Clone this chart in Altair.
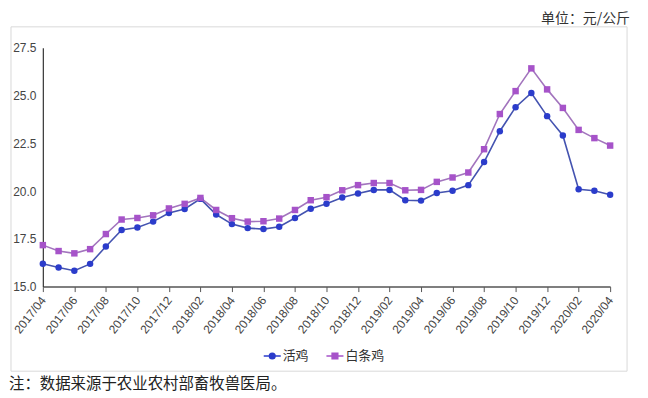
import altair as alt
import pandas as pd

# ---------------- data ----------------
months = [
    "2017/04", "2017/05", "2017/06", "2017/07", "2017/08", "2017/09", "2017/10",
    "2017/11", "2017/12", "2018/01", "2018/02", "2018/03", "2018/04", "2018/05",
    "2018/06", "2018/07", "2018/08", "2018/09", "2018/10", "2018/11", "2018/12",
    "2019/01", "2019/02", "2019/03", "2019/04", "2019/05", "2019/06", "2019/07",
    "2019/08", "2019/09", "2019/10", "2019/11", "2019/12", "2020/01", "2020/02",
    "2020/03", "2020/04",
]
live_chicken = [
    16.20, 16.00, 15.83, 16.19, 17.10, 17.96, 18.09, 18.40, 18.85, 19.06,
    19.59, 18.77, 18.27, 18.06, 18.01, 18.13, 18.59, 19.07, 19.34, 19.66,
    19.87, 20.06, 20.06, 19.52, 19.50, 19.90, 20.02, 20.31, 21.52, 23.13,
    24.39, 25.13, 23.92, 22.91, 20.09, 20.02, 19.81,
]
white_chicken = [
    17.17, 16.86, 16.74, 16.96, 17.75, 18.51, 18.59, 18.73, 19.09, 19.33,
    19.64, 19.01, 18.58, 18.40, 18.42, 18.56, 19.01, 19.52, 19.68, 20.04,
    20.31, 20.42, 20.42, 20.04, 20.06, 20.48, 20.71, 20.97, 22.19, 24.03,
    25.23, 26.42, 25.32, 24.35, 23.20, 22.77, 22.38,
]
series_names = ["活鸡", "白条鸡"]
y_ticks = [15.0, 17.5, 20.0, 22.5, 25.0, 27.5]
x_tick_labels = months[::2]
unit_text = "单位：元/公斤"
note_text = "注：数据来源于农业农村部畜牧兽医局。"

line_colors = ["#4453b0", "#a274bd"]
point_colors = ["#2b3ccb", "#a653c9"]
legend_paths = [
    "M-1.5,0H-0.62M0.62,0H1.5M-0.5,0A0.5,0.5,0,1,1,0.5,0A0.5,0.5,0,1,1,-0.5,0Z",
    "M-1.5,0H-0.62M0.62,0H1.5M-0.5,-0.5H0.5V0.5H-0.5Z",
]

df = pd.DataFrame({
    "月份": months * 2,
    "价格": live_chicken + white_chicken,
    "品种": [series_names[0]] * len(months) + [series_names[1]] * len(months),
})

LABEL_FONT = "Liberation Sans"
CJK_FONT = "Noto Sans CJK SC"

x_enc = alt.X(
    "月份:O",
    sort=months,
    scale=alt.Scale(type="point", padding=0),
    axis=alt.Axis(
        values=x_tick_labels,
        labelAngle=308,
        labelAlign="right",
        labelBaseline="middle",
        labelFont=LABEL_FONT,
        labelFontSize=12,
        labelColor="#444444",
        labelPadding=6,
        domainColor="#555555",
        domainWidth=1.5,
        tickColor="#555555",
        tickSize=5,
        grid=False,
        title=None,
    ),
)
y_enc = alt.Y(
    "价格:Q",
    scale=alt.Scale(domain=[15, 27.5], nice=False, zero=False),
    axis=alt.Axis(
        values=y_ticks,
        format=".1f",
        labelFont=LABEL_FONT,
        labelFontSize=12,
        labelColor="#444444",
        labelPadding=7,
        ticks=False,
        domainColor="#333333",
        domainWidth=1.2,
        grid=False,
        title=None,
    ),
)

base = alt.Chart(df)

lines = base.mark_line(strokeWidth=1.6).encode(
    x=x_enc,
    y=y_enc,
    color=alt.Color("品种:N", scale=alt.Scale(domain=series_names, range=line_colors), legend=None),
    detail="品种:N",
)

points = base.mark_point(filled=True, opacity=1, size=42).encode(
    x=x_enc,
    y=y_enc,
    color=alt.Color("品种:N", scale=alt.Scale(domain=series_names, range=point_colors), legend=None),
    shape=alt.Shape("品种:N", scale=alt.Scale(domain=series_names, range=["circle", "square"]), legend=None),
)

legend_props = dict(
    orient="none",
    legendX=224,
    legendY=303,
    direction="horizontal",
    title=None,
    symbolSize=130,
    symbolStrokeWidth=1.5,
    labelFont=CJK_FONT,
    labelFontSize=13,
    labelColor="#333333",
    columnPadding=13,
    labelOffset=4,
)

legend_layer = base.transform_filter("false").mark_point(opacity=1).encode(
    fill=alt.Fill("品种:N", scale=alt.Scale(domain=series_names, range=point_colors),
                  legend=alt.Legend(**legend_props)),
    stroke=alt.Stroke("品种:N", scale=alt.Scale(domain=series_names, range=point_colors),
                      legend=alt.Legend(**legend_props)),
    shape=alt.Shape("品种:N", scale=alt.Scale(domain=series_names, range=legend_paths),
                    legend=alt.Legend(**legend_props)),
)

frame = alt.Chart(pd.DataFrame({"k": [0]})).mark_rect(
    fill="transparent", stroke="#d9d9d9", strokeWidth=1
).encode(
    x=alt.value(-32), x2=alt.value(587), y=alt.value(-21), y2=alt.value(325)
)

unit_label = alt.Chart(pd.DataFrame({"t": [unit_text]})).mark_text(
    align="right", baseline="middle", font=CJK_FONT, fontSize=14, color="#333333"
).encode(text="t:N", x=alt.value(590), y=alt.value(-29))

note_label = alt.Chart(pd.DataFrame({"t": [note_text]})).mark_text(
    align="left", baseline="middle", font=CJK_FONT, fontSize=15.5, color="#222222"
).encode(text="t:N", x=alt.value(-34), y=alt.value(338))

chart = alt.layer(frame, lines, points, legend_layer, unit_label, note_label).resolve_scale(
    color="independent", shape="independent", fill="independent", stroke="independent"
).properties(
    width=570,
    height=240,
    autosize=alt.AutoSizeParams(type="none"),
    padding={"left": 35, "top": 39, "right": 30, "bottom": 108},
).configure_view(stroke=None)

chart.save("out.html", embed_options={"renderer": "svg", "actions": False})
